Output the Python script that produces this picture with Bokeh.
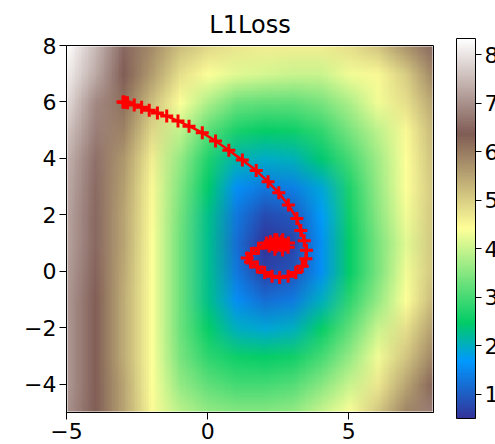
import zlib, struct, base64
import numpy as np
from bokeh.plotting import figure
from bokeh.models import LinearColorMapper, ColorBar, FixedTicker
from bokeh.embed import file_html
from bokeh.resources import INLINE

# grid coordinates of the loss surface
grid_x = [-5, -4, -3, -2, -1, 0, 1, 2, 3, 4, 5, 6, 7, 8]
grid_y = [-5, -4, -3, -2, -1, 0, 1, 2, 3, 4, 5, 6, 7, 8]

# loss values, one row per y (x from -5 to 8)
loss_y_m5 = [7.0, 6.4, 5.5, 4.5, 3.9, 3.6, 3.5, 3.5, 3.6, 4.0, 4.4, 5.1, 5.9, 6.8]
loss_y_m4 = [7.1, 6.4, 5.5, 4.4, 3.6, 3.2, 3.0, 3.0, 3.1, 3.5, 4.0, 4.7, 5.5, 6.3]
loss_y_m3 = [7.1, 6.4, 5.4, 4.4, 3.4, 2.8, 2.55, 2.5, 2.6, 3.0, 3.6, 4.3, 5.1, 5.9]
loss_y_m2 = [7.1, 6.4, 5.4, 4.4, 3.3, 2.5, 2.0, 1.9, 2.0, 2.5, 3.2, 4.0, 4.8, 5.6]
loss_y_m1 = [7.1, 6.4, 5.4, 4.4, 3.3, 2.3, 1.55, 1.2, 1.35, 2.0, 2.8, 3.6, 4.4, 5.3]
loss_y_0 = [7.15, 6.45, 5.45, 4.4, 3.3, 2.25, 1.3, 0.7, 0.9, 1.6, 2.5, 3.4, 4.3, 5.1]
loss_y_1 = [7.2, 6.5, 5.5, 4.4, 3.3, 2.25, 1.2, 0.5, 0.7, 1.6, 2.5, 3.4, 4.2, 5.1]
loss_y_2 = [7.25, 6.5, 5.5, 4.45, 3.35, 2.3, 1.3, 0.8, 0.95, 1.7, 2.6, 3.5, 4.3, 5.1]
loss_y_3 = [7.3, 6.55, 5.55, 4.5, 3.45, 2.45, 1.6, 1.3, 1.4, 1.9, 2.7, 3.6, 4.4, 5.1]
loss_y_4 = [7.4, 6.6, 5.65, 4.6, 3.6, 2.7, 2.1, 1.95, 2.05, 2.4, 3.0, 3.7, 4.4, 5.2]
loss_y_5 = [7.6, 6.8, 5.9, 4.9, 3.95, 3.15, 2.65, 2.5, 2.55, 2.85, 3.4, 3.9, 4.5, 5.3]
loss_y_6 = [7.9, 6.9, 6.1, 5.2, 4.4, 3.8, 3.3, 3.2, 3.2, 3.4, 3.8, 4.3, 4.8, 5.5]
loss_y_7 = [8.1, 7.3, 6.4, 5.6, 4.8, 4.4, 4.2, 4.1, 4.0, 4.0, 4.3, 4.5, 5.0, 5.9]
loss_y_8 = [8.3, 7.5, 6.5, 5.8, 5.2, 4.9, 4.7, 4.6, 4.6, 4.6, 4.8, 5.1, 5.7, 6.5]

loss_rows = [loss_y_m5, loss_y_m4, loss_y_m3, loss_y_m2, loss_y_m1, loss_y_0, loss_y_1,
             loss_y_2, loss_y_3, loss_y_4, loss_y_5, loss_y_6, loss_y_7, loss_y_8]

# optimiser trajectory
path_x = [-3.0, -2.98, -2.93, -2.84, -2.60, -2.34, -2.07, -1.78, -1.45, -1.05, -0.66, -0.19,
          0.28, 0.75, 1.23, 1.72, 2.14, 2.52, 2.86, 3.16, 3.30, 3.42, 3.50, 3.48, 3.35, 3.12,
          2.85, 2.55, 2.28, 2.02, 1.76, 1.52, 1.40, 1.55, 1.80, 2.08, 2.38, 2.66, 2.86, 2.85,
          2.65, 2.38, 2.18, 2.22, 2.45, 2.62, 2.60, 2.42, 2.33, 2.42, 2.50]
path_y = [6.0, 6.0, 5.99, 5.97, 5.89, 5.81, 5.71, 5.61, 5.50, 5.33, 5.14, 4.91,
          4.62, 4.29, 3.94, 3.57, 3.17, 2.78, 2.35, 1.87, 1.45, 1.08, 0.75, 0.45, 0.18, -0.04,
          -0.17, -0.22, -0.17, -0.04, 0.15, 0.33, 0.47, 0.63, 0.82, 1.00, 1.12, 1.12, 1.00, 0.85,
          0.76, 0.78, 0.90, 1.05, 1.12, 1.05, 0.92, 0.88, 0.97, 1.03, 1.00]

x_ticks = [-5, 0, 5]
y_ticks = [-4, -2, 0, 2, 4, 6, 8]
cbar_ticks = [1, 2, 3, 4, 5, 6, 7, 8]
cbar_low, cbar_high = 0.5, 8.33

# terrain colour map
_stops = [(0.0, (0.2, 0.2, 0.6)), (0.15, (0.0, 0.6, 1.0)), (0.25, (0.0, 0.8, 0.4)),
          (0.5, (1.0, 1.0, 0.6)), (0.75, (0.5, 0.36, 0.33)), (1.0, (1.0, 1.0, 1.0))]
_pos = [s[0] for s in _stops]
palette_rgb = []
for t in np.linspace(0, 1, 256):
    rgb = [np.interp(t, _pos, [s[1][k] for s in _stops]) for k in range(3)]
    palette_rgb.append(tuple(int(round(c * 255)) for c in rgb))
palette = ["#%02x%02x%02x" % c for c in palette_rgb]

mapper = LinearColorMapper(palette=palette, low=cbar_low, high=cbar_high)


def colour_of(v):
    idx = int((v - cbar_low) / (cbar_high - cbar_low) * len(palette_rgb))
    return palette_rgb[min(max(idx, 0), len(palette_rgb) - 1)]


def png_url(rows_top_first):
    h, w = len(rows_top_first), len(rows_top_first[0])
    raw = b"".join(b"\x00" + bytes(c for v in row for c in colour_of(v)) for row in rows_top_first)

    def chunk(tag, data):
        return (struct.pack(">I", len(data)) + tag + data
                + struct.pack(">I", zlib.crc32(tag + data) & 0xFFFFFFFF))

    png = (b"\x89PNG\r\n\x1a\n"
           + chunk(b"IHDR", struct.pack(">IIBBBBB", w, h, 8, 2, 0, 0, 0))
           + chunk(b"IDAT", zlib.compress(raw, 9)) + chunk(b"IEND", b""))
    return "data:image/png;base64," + base64.b64encode(png).decode()


FONT = "DejaVu Sans"
p = figure(width=495, height=444, x_range=(-5, 8), y_range=(-5, 8),
           output_backend="svg", toolbar_location=None,
           min_border_left=66, min_border_right=62, min_border_top=45, min_border_bottom=32)

step = grid_x[1] - grid_x[0]
surface_url = png_url(loss_rows[::-1])
p.image_url(url=[surface_url], x=grid_x[0] - step / 2, y=grid_y[-1] + step / 2,
            w=len(grid_x) * step, h=len(grid_y) * step, anchor="top_left")

p.line(path_x, path_y, line_color="red", line_width=2.5)
p.scatter(path_x, path_y, marker="cross", size=13, line_width=3, line_color="red")

p.grid.visible = False
p.outline_line_color = "black"
p.outline_line_width = 1
p.background_fill_color = "white"

p.title.text = "L1Loss"
p.title.align = "center"
p.title.text_font = FONT
p.title.text_font_size = "24px"
p.title.text_font_style = "normal"
p.title.text_color = "black"
p.title.standoff = 14

for ax, ticks in ((p.xaxis[0], x_ticks), (p.yaxis[0], y_ticks)):
    ax.ticker = FixedTicker(ticks=ticks)
    ax.major_label_overrides = {t: (("\u2212" + str(-t)) if t < 0 else str(t)) for t in ticks}
    ax.major_tick_out = 7
    ax.major_tick_in = 0
    ax.minor_tick_line_color = None
    ax.axis_line_color = "black"
    ax.major_tick_line_color = "black"
    ax.major_label_text_font = FONT
    ax.major_label_text_font_size = "22px"
    ax.major_label_text_color = "black"
    ax.major_label_standoff = 3

cb = ColorBar(color_mapper=mapper, location=(390, -6), width=19, height=380,
              padding=0, margin=0, ticker=FixedTicker(ticks=cbar_ticks),
              major_tick_out=6, major_tick_in=0, major_tick_line_color="black",
              minor_tick_line_color=None, bar_line_color="black",
              major_label_text_font=FONT, major_label_text_font_size="22px",
              major_label_text_color="black",
              label_standoff=3, background_fill_alpha=0, border_line_color=None)
p.add_layout(cb, "center")

open("out.html", "w").write(file_html(p, INLINE))
